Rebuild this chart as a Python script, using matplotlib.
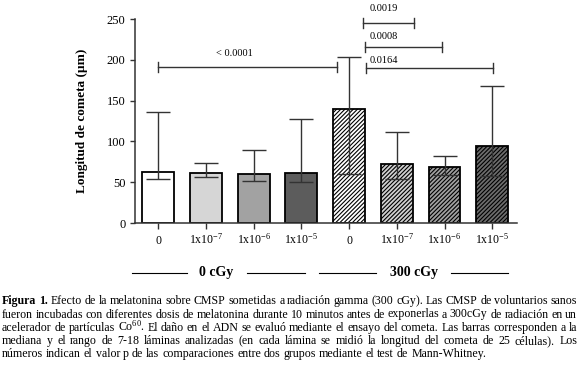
import matplotlib
matplotlib.use('Agg')
import matplotlib.pyplot as plt
import matplotlib.transforms as mtransforms
import numpy as np

plt.rcParams['font.family'] = ['Liberation Serif', 'DejaVu Serif']
plt.rcParams['mathtext.fontset'] = 'custom'
plt.rcParams['mathtext.rm'] = 'Liberation Serif'
plt.rcParams['mathtext.it'] = 'Liberation Serif:italic'
plt.rcParams['mathtext.bf'] = 'Liberation Serif:bold'
plt.rcParams['hatch.linewidth'] = 0.8

# datos (mediana y rango)
etiquetas = ['0', r'1x10$^{-7}$', r'1x10$^{-6}$', r'1x10$^{-5}$',
             '0', r'1x10$^{-7}$', r'1x10$^{-6}$', r'1x10$^{-5}$']
mediana = [63, 61, 60, 61, 140, 72, 69, 94]
minimo = [54, 56, 51, 50, 60, 54, 59, 57]
maximo = [136, 74, 90, 127, 204, 112, 82, 168]
colores = ['#ffffff', '#d6d6d6', '#a2a2a2', '#5c5c5c',
           '#ffffff', '#d0d0d0', '#a0a0a0', '#6c6c6c']
tramas = ['', '', '', '', '////////', '////////', '////////', '////////']
grupos = ['0 cGy', '300 cGy']

# comparaciones: (x inicio, x fin, y, texto, x texto, y texto, alineacion)
comparaciones = [
    (0.0, 3.75, 191.5, '< 0.0001', 1.6, 208, 'center'),
    (4.30, 5.36, 245, '0.0019', 4.43, 263, 'left'),
    (4.33, 5.95, 216, '0.0008', 4.43, 229, 'left'),
    (4.35, 7.02, 190, '0.0164', 4.43, 199.5, 'left'),
]

fig = plt.figure(figsize=(5.8, 3.75), dpi=100)
ax = fig.add_axes([135 / 580, 152 / 375, 382 / 580, 204 / 375])

x = np.arange(len(mediana))
yerr = [np.array(mediana) - np.array(minimo), np.array(maximo) - np.array(mediana)]
barras = ax.bar(x, mediana, width=0.67, color=colores, edgecolor='black',
                linewidth=1.3, zorder=2)
for b, t in zip(barras, tramas):
    b.set_hatch(t)
ax.errorbar(x, mediana, yerr=yerr, fmt='none', ecolor='#333333',
            elinewidth=1.0, capsize=8.5, capthick=1.0, zorder=3)

ax.set_xlim(-0.49, 7.52)
ax.set_ylim(0, 250)
ax.set_yticks([0, 50, 100, 150, 200, 250])
ax.set_xticks(x)
ax.set_xticklabels(etiquetas)
for lbl in ax.get_xticklabels():
    lbl.set_va('baseline')
ax.tick_params(axis='x', length=4.5, width=1.0, pad=10.5, labelsize=8.5, color='#333333')
ax.tick_params(axis='y', length=3.5, width=1.0, labelsize=9, color='#333333')
for s in ['top', 'right']:
    ax.spines[s].set_visible(False)
for s in ['left', 'bottom']:
    ax.spines[s].set_linewidth(1.1)
    ax.spines[s].set_color('#333333')

ax.set_ylabel('Longitud de cometa (µm)', fontsize=9.5, fontweight='bold')
ax.yaxis.set_label_coords(-0.122, 0.5)

# corchetes con valor p
for x0, x1, yy, txt, tx, ty, ha in comparaciones:
    ax.plot([x0, x1], [yy, yy], color='#333333', lw=1.0, clip_on=False)
    ax.plot([x0, x0], [yy - 6, yy + 6], color='#333333', lw=1.0, clip_on=False)
    ax.plot([x1, x1], [yy - 6, yy + 6], color='#333333', lw=1.0, clip_on=False)
    ax.text(tx, ty, txt, ha=ha, va='center', fontsize=7.5, clip_on=False)

# etiquetas de grupo
trans = mtransforms.blended_transform_factory(ax.transData, ax.transAxes)
yg = -0.244
for (a, b), (c, d), nombre in [((-0.56, 0.59), (1.85, 3.07), grupos[0]),
                               ((3.37, 4.57), (6.13, 7.34), grupos[1])]:
    ax.plot([a, b], [yg, yg], transform=trans, color='black', lw=0.8, clip_on=False)
    ax.plot([c, d], [yg, yg], transform=trans, color='black', lw=0.8, clip_on=False)
    ax.text((b + c) / 2, yg, nombre, transform=trans, ha='center', va='center',
            fontsize=10, fontweight='bold')

# pie de figura justificado
lineas = [
    'Figura 1. Efecto de la melatonina sobre CMSP sometidas a radiación gamma (300 cGy). Las CMSP de voluntarios sanos',
    'fueron incubadas con diferentes dosis de melatonina durante 10 minutos antes de exponerlas a 300cGy de radiación en un',
    'acelerador de partículas Co$^{60}$. El daño en el ADN se evaluó mediante el ensayo del cometa. Las barras corresponden a la',
    'mediana y el rango de 7-18 láminas analizadas (en cada lámina se midió la longitud del cometa de 25 células). Los',
    'números indican el valor p de las comparaciones entre dos grupos mediante el test de Mann-Whitney.',
]
y_lineas = [304, 317.5, 331, 344, 357]
x_izq, x_der = 2, 577
W, H = 580, 375
fs_pie = 8.6
renderer = fig.canvas.get_renderer()
for i, (linea, yl) in enumerate(zip(lineas, y_lineas)):
    palabras = linea.split(' ')
    textos = []
    for j, p in enumerate(palabras):
        peso = 'bold' if (i == 0 and j < 2) else 'normal'
        t = fig.text(0, 1 - yl / H, p, fontsize=fs_pie, fontweight=peso, va='baseline', ha='left')
        textos.append(t)
    anchos = [t.get_window_extent(renderer).width for t in textos]
    if i < len(lineas) - 1:
        hueco = (x_der - x_izq - sum(anchos)) / (len(palabras) - 1)
    else:
        hueco = fs_pie * 0.25 * 100 / 72
    xp = x_izq
    for t, w in zip(textos, anchos):
        t.set_x(xp / W)
        xp += w + hueco

fig.savefig('out.png', dpi=100)
